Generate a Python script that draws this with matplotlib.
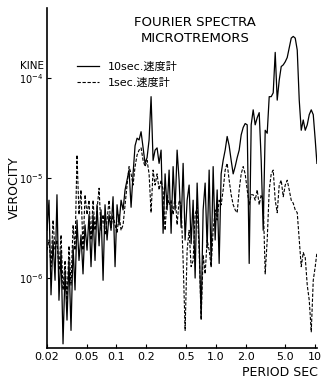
import matplotlib
matplotlib.use("Agg")
import matplotlib.pyplot as plt

plt.rcParams['font.family'] = ['DejaVu Sans', 'Noto Sans CJK JP']

# period (sec)
period = [0.0200, 0.02095, 0.02195, 0.0230, 0.0241, 0.0252, 0.0264, 0.0277, 0.0290, 0.0304,
          0.0318, 0.0333, 0.0349, 0.0366, 0.0383, 0.0401, 0.0420, 0.0440, 0.0461, 0.0483,
          0.0506, 0.0530, 0.0555, 0.0582, 0.0609, 0.0638, 0.0669, 0.0700, 0.0734, 0.0768,
          0.0805, 0.0843, 0.0883, 0.0925, 0.0969, 0.1015, 0.1063, 0.1114, 0.1167, 0.1222,
          0.1280, 0.1341, 0.1405, 0.1471, 0.1541, 0.1615, 0.1691, 0.1771, 0.1856, 0.1944,
          0.2036, 0.2133, 0.2234, 0.2340, 0.2451, 0.2568, 0.2690, 0.2818, 0.2952, 0.3092,
          0.3239, 0.3393, 0.3554, 0.3723, 0.3900, 0.4085, 0.4279, 0.4483, 0.4696, 0.4919,
          0.5153, 0.5397, 0.5654, 0.5923, 0.6204, 0.6499, 0.6808, 0.7131, 0.7470, 0.7825,
          0.8197, 0.8587, 0.8995, 0.9422, 0.9870, 1.034, 1.083, 1.134, 1.188, 1.245,
          1.304, 1.366, 1.431, 1.499, 1.570, 1.645, 1.723, 1.805, 1.891, 1.980,
          2.075, 2.173, 2.276, 2.384, 2.498, 2.616, 2.741, 2.871, 3.007, 3.150,
          3.300, 3.457, 3.621, 3.793, 3.973, 4.162, 4.360, 4.567, 4.784, 5.011,
          5.249, 5.499, 5.760, 6.034, 6.320, 6.621, 6.935, 7.265, 7.610, 7.971,
          8.350, 8.747, 9.162, 9.598, 10.05, 10.45]

# 10 sec velocity meter (solid)
vel_10s = [3.0e-6, 6.0e-6, 6.8e-7, 2.4e-6, 9.5e-7, 6.8e-6, 6.0e-7, 1.9e-6, 2.2e-7, 1.2e-6,
           3.8e-7, 1.5e-6, 3.0e-7, 2.1e-6, 7.6e-7, 3.8e-6, 1.5e-6, 2.7e-6, 1.1e-6, 3.4e-6,
           1.9e-6, 4.3e-6, 1.3e-6, 4.3e-6, 1.5e-6, 5.4e-6, 2.1e-6, 4.8e-6, 9.5e-7, 5.4e-6,
           2.4e-6, 4.3e-6, 3.0e-6, 6.5e-6, 1.3e-6, 5.4e-6, 3.4e-6, 6.0e-6, 4.8e-6, 7.6e-6,
           9.5e-6, 1.2e-5, 5.1e-6, 1.1e-5, 2.1e-5, 2.5e-5, 2.4e-5, 2.9e-5, 2.0e-5, 1.4e-5,
           1.6e-5, 2.4e-5, 6.5e-5, 1.5e-5, 1.9e-5, 2.0e-5, 1.4e-5, 1.9e-5, 2.8e-6, 1.1e-5,
           4.8e-6, 1.2e-5, 2.8e-6, 1.3e-5, 4.8e-6, 1.9e-5, 9.5e-6, 3.2e-6, 1.4e-5, 2.4e-6,
           6.0e-6, 8.5e-6, 2.2e-6, 6.0e-6, 1.0e-6, 8.9e-6, 2.4e-6, 4.1e-7, 4.8e-6, 8.9e-6,
           2.0e-6, 1.2e-5, 1.3e-6, 1.3e-5, 2.4e-6, 7.6e-6, 1.4e-6, 1.1e-5, 1.5e-5, 1.9e-5,
           2.6e-5, 2.1e-5, 1.5e-5, 1.1e-5, 1.3e-5, 1.6e-5, 1.9e-5, 2.7e-5, 3.2e-5, 3.5e-5,
           3.4e-5, 1.4e-6, 3.4e-5, 4.8e-5, 3.4e-5, 4.0e-5, 4.5e-5, 1.5e-5, 3.0e-6, 3.0e-5,
           2.8e-5, 6.5e-5, 6.5e-5, 7.1e-5, 1.8e-4, 6.0e-5, 9.5e-5, 1.3e-4, 1.35e-4, 1.45e-4,
           1.6e-4, 2.0e-4, 2.5e-4, 2.6e-4, 2.5e-4, 1.9e-4, 6.0e-5, 3.0e-5, 3.8e-5, 3.0e-5,
           3.4e-5, 4.3e-5, 4.8e-5, 4.3e-5, 2.4e-5, 1.4e-5]

# 1 sec velocity meter (dashed)
vel_1s = [1.9e-6, 2.4e-6, 1.3e-6, 3.8e-6, 1.9e-6, 2.4e-6, 1.2e-6, 2.7e-6, 7.6e-7, 1.5e-6,
          6.0e-7, 2.1e-6, 8.5e-7, 3.4e-6, 1.9e-6, 1.7e-5, 4.3e-6, 7.6e-6, 1.9e-6, 6.8e-6,
          4.3e-6, 6.0e-6, 2.4e-6, 6.0e-6, 3.0e-6, 4.8e-6, 7.9e-6, 3.0e-6, 4.3e-6, 2.7e-6,
          3.8e-6, 6.0e-6, 3.2e-6, 4.3e-6, 3.4e-6, 2.8e-6, 4.3e-6, 3.0e-6, 3.4e-6, 5.4e-6,
          8.5e-6, 1.3e-5, 1.1e-5, 8.5e-6, 1.3e-5, 1.7e-5, 1.9e-5, 2.0e-5, 1.5e-5, 1.3e-5,
          1.5e-5, 1.1e-5, 4.5e-6, 1.2e-5, 8.5e-6, 1.1e-5, 7.6e-6, 9.5e-6, 7.6e-6, 3.0e-6,
          6.8e-6, 5.4e-6, 6.0e-6, 4.3e-6, 6.8e-6, 3.4e-6, 6.0e-6, 5.4e-6, 1.5e-6, 3.0e-7,
          1.9e-6, 3.0e-6, 1.3e-6, 1.5e-6, 4.3e-6, 5.1e-6, 1.9e-6, 3.8e-7, 1.7e-6, 1.1e-6,
          2.4e-6, 1.9e-6, 1.3e-6, 3.0e-6, 4.8e-6, 3.8e-6, 6.0e-6, 5.4e-6, 7.6e-6, 1.2e-5,
          1.4e-5, 9.5e-6, 6.8e-6, 5.4e-6, 4.8e-6, 4.5e-6, 7.6e-6, 1.1e-5, 1.3e-5, 1.1e-5,
          7.6e-6, 5.4e-6, 6.8e-6, 6.8e-6, 6.0e-6, 7.6e-6, 5.4e-6, 6.8e-6, 6.0e-6, 1.1e-6,
          2.4e-6, 7.6e-6, 1.1e-5, 1.2e-5, 6.0e-6, 4.5e-6, 8.5e-6, 9.5e-6, 6.5e-6, 8.5e-6,
          9.5e-6, 7.6e-6, 6.0e-6, 5.6e-6, 4.8e-6, 4.5e-6, 2.4e-6, 1.3e-6, 1.8e-6, 1.6e-6,
          8.5e-7, 6.0e-7, 2.9e-7, 9.5e-7, 1.3e-6, 1.8e-6]

xticks = [0.02, 0.05, 0.1, 0.2, 0.5, 1.0, 2.0, 5.0, 10]
xtick_labels = ["0.02", "0.05", "0.1", "0.2", "0.5", "1.0", "2.0", "5.0", "10"]
yticks = [1e-6, 1e-5, 1e-4]
ytick_labels = ["$10^{-6}$", "$10^{-5}$", "$10^{-4}$"]
legend_labels = ["10sec.速度計", "1sec.速度計"]

W, H = 322, 380
fig = plt.figure(figsize=(W / 100, H / 100), dpi=100)
ax = fig.add_axes([47 / W, 1 - 348 / H, 270 / W, 340 / H])

ax.plot(period, vel_10s, color="black", lw=0.9, label=legend_labels[0])
ax.plot(period, vel_1s, color="black", lw=0.8, linestyle=(0, (3, 1.5)), label=legend_labels[1])

ax.set_xscale("log")
ax.set_yscale("log")
ax.set_xlim(0.02, 10.47)
ax.set_ylim(2.0e-7, 5.0e-4)

ax.set_xticks(xticks)
ax.set_xticklabels(xtick_labels, fontsize=8)
ax.set_yticks(yticks)
ax.set_yticklabels(ytick_labels, fontsize=7)
ax.minorticks_off()
ax.tick_params(axis="both", direction="in", length=3, width=0.8, pad=3)

for side in ["top", "right"]:
    ax.spines[side].set_visible(False)
for side in ["left", "bottom"]:
    ax.spines[side].set_linewidth(1.2)

ax.legend(loc="upper left", bbox_to_anchor=(67 / W, 1 - 52 / H), bbox_transform=fig.transFigure,
          frameon=False, fontsize=8, handlelength=2.0, handletextpad=0.8, labelspacing=0.55)

fig.text(195 / W, 1 - 22 / H, "FOURIER SPECTRA", ha="center", va="center", fontsize=9.5)
fig.text(195 / W, 1 - 38 / H, "MICROTREMORS", ha="center", va="center", fontsize=9.5)
fig.text(32 / W, 1 - 66 / H, "KINE", ha="center", va="center", fontsize=7.5)
fig.text(14 / W, 1 - 188 / H, "VEROCITY", ha="center", va="center", rotation=90, fontsize=9)
fig.text(318 / W, 1 - 372 / H, "PERIOD SEC", ha="right", va="center", fontsize=9)

fig.savefig("out.png", dpi=100)
